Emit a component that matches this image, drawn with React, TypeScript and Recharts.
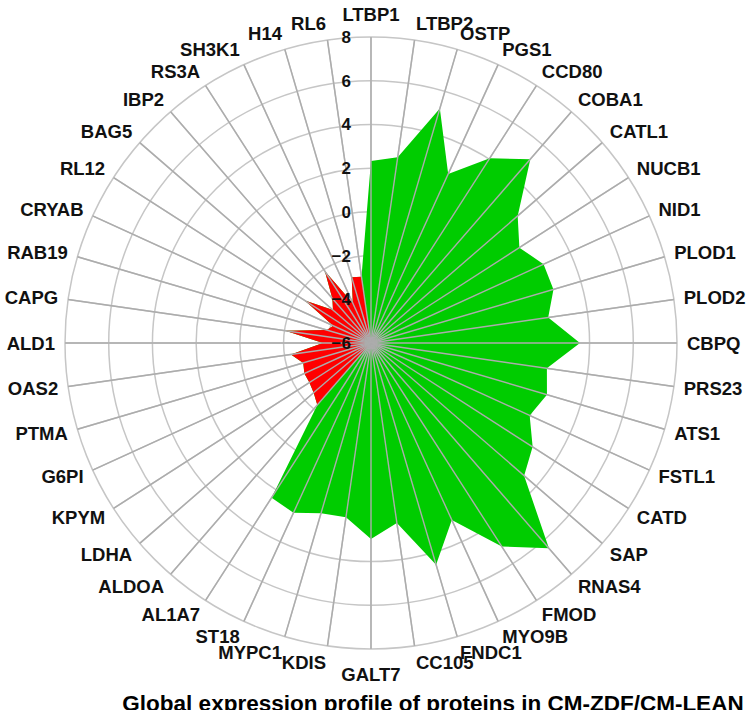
import React from 'react'
import {
  RadarChart,
  Radar,
  PolarGrid,
  PolarAngleAxis,
  PolarRadiusAxis,
} from 'recharts'

// up-regulated proteins (green)
const upLabels = [
  'LTBP1', 'LTBP2', 'OSTP', 'PGS1', 'CCD80', 'COBA1', 'CATL1', 'NUCB1', 'NID1',
  'PLOD1', 'PLOD2', 'CBPQ', 'PRS23', 'ATS1', 'FSTL1', 'CATD', 'SAP', 'RNAS4',
  'FMOD', 'MYO9B', 'FNDC1', 'CC105', 'GALT7', 'KDIS', 'MYPC1', 'ST18', 'AL1A7',
]
const upValues = [
  2.33, 2.58, 5.18, 2.5, 4.05, 5.13, 2.88, 2.07, 2.68,
  2.7, 2.19, 3.56, 2.13, 2.39, 1.98, 2.79, 3.27, 6.43,
  5.07, 2.9, 4.57, 2.32, 2.97, 2.05, 2.12, 2.54, 2.41,
]

// down-regulated proteins (red)
const downLabels = [
  'ALDOA', 'LDHA', 'KPYM', 'G6PI', 'PTMA', 'OAS2', 'ALD1', 'CAPG', 'RAB19',
  'CRYAB', 'RL12', 'BAG5', 'IBP2', 'RS3A', 'SH3K1', 'H14', 'RL6',
]
const downValues = [
  -2.25, -2.53, -2.65, -2.65, -2.77, -2.3, -3.8, -2.05, -3.9,
  -4.1, -2.4, -3.7, -3.3, -2.1, -4.0, -2.86, -2.94,
]

const radiusTicks = [-6, -4, -2, 0, 2, 4, 6, 8]
const AXIS_MIN = -6
const AXIS_MAX = 8

const W = 747
const H = 710
const CX = 371
const CY = 343
const OUTER_R = 306
const FONT = '"Liberation Sans", Arial, Helvetica, sans-serif'
const LABEL_SIZE = 18.5
const CAP = 13

const data = [
  ...upLabels.map((name, i) => ({ name, up: upValues[i], down: AXIS_MIN })),
  ...downLabels.map((name, i) => ({ name, up: downValues[i], down: downValues[i] })),
]

const AngleTick = (props: any) => {
  const { payload } = props
  const phi = ((90 - payload.coordinate) * Math.PI) / 180
  const r = OUTER_R + 10
  const s = Math.sin(phi)
  const c = Math.cos(phi)
  const x = CX + r * s
  const y = CY - r * c
  const onAxis = Math.abs(s) < 0.02
  const anchor = onAxis ? 'middle' : s > 0 ? 'start' : 'end'
  // labels straight above / below sit a bit further out, like the original
  let dy = (CAP * (1 - c)) / 2
  if (onAxis) dy += c > 0 ? -6 : 9
  return (
    <text
      x={x}
      y={y + dy}
      textAnchor={anchor}
      fontFamily={FONT}
      fontWeight="bold"
      fontSize={LABEL_SIZE}
      fill="#111"
    >
      {payload.value}
    </text>
  )
}

const RadiusTick = (props: any) => {
  const { y, payload } = props
  return (
    <text
      x={CX - 20}
      y={y + 6}
      textAnchor="end"
      fontFamily={FONT}
      fontWeight="bold"
      fontSize={17}
      fill="#111"
    >
      {String(payload.value).replace('-', '\u2212')}
    </text>
  )
}

export default function App() {
  return (
    <div style={{ position: 'absolute', left: 0, top: 0, width: W, height: H, background: '#fff', overflow: 'hidden' }}>
      <RadarChart
        width={W}
        height={H}
        cx={CX}
        cy={CY}
        outerRadius={OUTER_R}
        data={data}
        margin={{ top: 0, right: 0, bottom: 0, left: 0 }}
      >
        <PolarGrid gridType="circle" stroke="#c6c6c6" strokeWidth={1.5} />
        <PolarAngleAxis
          dataKey="name"
          tick={<AngleTick />}
          tickLine={false}
          axisLine={false}
        />
        <Radar
          dataKey="up"
          fill="#00cc00"
          fillOpacity={1}
          stroke="none"
          isAnimationActive={false}
        />
        <Radar
          dataKey="down"
          fill="#ff0000"
          fillOpacity={1}
          stroke="none"
          isAnimationActive={false}
        />
        <PolarGrid
          gridType="circle"
          polarRadius={[0]}
          stroke="#acacac"
          strokeWidth={1.4}
          zIndex={600}
        />
        <PolarRadiusAxis
          angle={90}
          domain={[AXIS_MIN, AXIS_MAX]}
          ticks={radiusTicks}
          tickCount={8}
          tick={<RadiusTick />}
          axisLine={false}
          tickLine={false}
          zIndex={700}
        />
      </RadarChart>
      <svg
        width={W}
        height={H}
        style={{ position: 'absolute', left: 0, top: 0, pointerEvents: 'none' }}
      >
        <text
          x={433}
          y={711}
          textAnchor="middle"
          fontFamily={FONT}
          fontWeight="bold"
          fontSize={22.5}
          fill="#000"
        >
          Global expression profile of proteins in CM-ZDF/CM-LEAN
        </text>
      </svg>
    </div>
  )
}
